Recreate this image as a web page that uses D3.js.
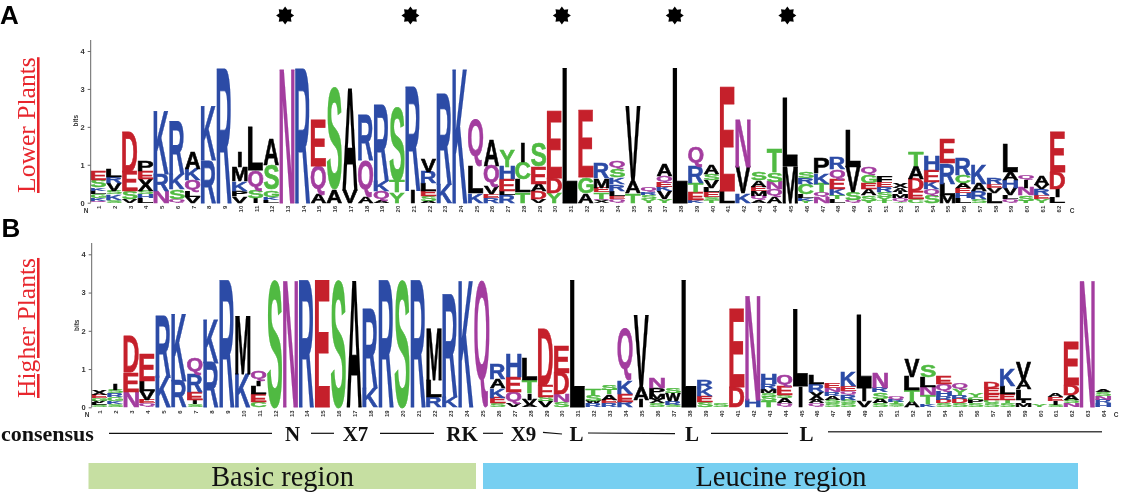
<!DOCTYPE html>
<html><head><meta charset="utf-8">
<script src="https://cdnjs.cloudflare.com/ajax/libs/d3/7.8.5/d3.min.js"></script>
<style>html,body{margin:0;padding:0;background:#fff}svg{display:block;filter:blur(.4px)}</style>
</head><body><svg id="c" width="1121" height="496"></svg>
<script>
// Panel A – letters bottom→top for each position, and their heights in bits
const lowerLetters = ["QKGLKSE","SKSVRL","VSED","LHSXEP","NRK","QSKR","VLQKA","RK","R","VPKMI","ISQL","LKGSA","N","R","AQE","AS","VA","AQR","AQKR","YTS","IR","ASELRV","KR","K","KLQ","REVQA","RLEHY","TLCI","VDAES","YDE","L","AGE","XQTEMR","QELRKSQ","TAV","YSRQ","YVKEQA","L","KETRQ","TSELVSA","LE","KVN","AQMEAS","AQNST","ML","YKLCRS","NQTKP","LTKEQR","QSVL","YSAEGQ","TYSREF","YQMIAX","CEDAT","SQKEH","MLRE","LHEACR","SRAK","LVER","QLVHAL","TSNIQ","YERVA","LIDE"];
const lowerHeights = [[.05,.07,.1,.1,.08,.2,.22],[.08,.14,.1,.2,.15,.2],[.1,.2,.52,1.05],[.12,.1,.1,.3,.2,.26],[.3,.45,1.67],[.1,.25,.4,1.39],[.15,.15,.3,.3,.45],[1.12,1.43],[3.55],[.17,.15,.25,.38,.42],[.12,.2,.53,1.13],[.08,.08,.18,.65,.68],[3.55],[3.55],[.22,.76,1.22],[.35,2.68],[.33,2.7],[.15,.97,1.18],[.05,.25,.27,1.98],[.28,.3,1.95],[.33,2.72],[.05,.12,.15,.2,.3,.35],[.5,2.38],[3.55],[.25,.7,1.25],[.13,.1,.2,.55,.69],[.2,.12,.3,.33,.45],[.27,.35,.45,.51],[.1,.2,.2,.45,.61],[.25,.4,1.77],[3.55],[.25,.42,1.75],[.05,.05,.17,.13,.25,.39],[.1,.08,.14,.18,.18,.2,.22],[.25,.3,2],[.1,.1,.08,.12],[.1,.2,.12,.12,.17,.29],[3.55],[.07,.2,.25,.42,.54],[.08,.08,.12,.12,.2,.16,.23],[.32,2.73],[.25,.7,1.25],[.06,.12,.12,.12,.17,.21],[.15,.2,.2,.25,.63],[.97,1.8],[.05,.08,.1,.27,.15,.17],[.15,.13,.22,.27,.4],[.1,.1,.15,.25,.28,.29],[.07,.22,.66,.97],[.05,.15,.15,.17,.2,.23],[.05,.1,.12,.14,.13,.15],[.03,.1,.1,.05,.1,.12],[.1,.2,.33,.33,.39],[.2,.15,.2,.3,.38],[.2,.3,.55,.65],[.12,.13,.13,.13,.22,.44],[.1,.2,.2,.5,.78],[.25,.13,.1,.17],[.1,.1,.2,.2,.2,.75],[.05,.15,.2,.2,.13,.4],[.1,.1,.15,.12,.25,.4],[.15,.22,.45,1.05]];

// Panel B
const higherLetters = ["SLVGEX","SKGRSI","NED","QEVLE","KR","RK","SIERQ","RK","R","KM","CELIQ","S","N","R","E","S","A","KR","R","S","R","RLM","KR","K","Q","SEKAR","VQEH","AVITL","VSED","SNDE","L","RWST","REATS","REKQ","IAV","SXMPN","SRWS","L","SEKR","S","DE","HN","TSSMRH","QASEQ","IL","QAXRL","SSARNE","SSRQEK","VIL","SASRN","YSTRQ","ATLV","KTNLS","SDRHQE","SDRYQ","SPCY","SCEED","STELK","MILAV","Y","SIEA","NSADE","N","HRNSA"];
const higherHeights = [[.05,.06,.06,.08,.08,.12],[.08,.08,.1,.1,.1,.17],[.41,.51,.93],[.1,.1,.22,.28,.71],[.8,1.6],[.7,1.76],[.08,.12,.2,.45,.45],[1.17,1.16],[3.33],[.87,1.53],[.15,.2,.2,.13,.25],[3.33],[3.33],[3.33],[3.33],[3.33],[3.33],[.5,2.09],[3.33],[3.33],[3.33],[.28,.43,1.34],[.28,2.67],[3.33],[3.33],[.1,.15,.25,.25,.4],[.1,.3,.4,.61],[.05,.15,.17,.34,.55],[.15,.12,.3,1.47],[.15,.2,.55,.71],[3.33],[.1,.05,.17,.18],[.1,.1,.14,.12,.12],[.15,.2,.35,1.34],[.2,.32,1.87],[.1,.12,.12,.17,.28],[.06,.1,.2,.14],[3.33],[.15,.15,.2,.2],[.09],[.52,2.05],[.19,2.76],[.15,.12,.1,.1,.14,.26],[.1,.13,.1,.22,.3],[.55,2.02],[.1,.1,.2,.2,.23],[.1,.1,.1,.1,.11,.12],[.1,.1,.13,.1,.13,.37],[.17,.33,1.89],[.1,.12,.17,.12,.42],[.04,.05,.05,.06,.1],[.15,.3,.35,.45],[.08,.24,.22,.26,.32],[.1,.1,.1,.12,.2,.2],[.1,.13,.1,.15,.15],[.1,.1,.08,.1],[.1,.1,.15,.15,.15],[.1,.1,.15,.2,.43],[.1,.1,.27,.25,.47],[.06],[.06,.1,.1,.11],[.1,.1,.13,.25,1.12],[3.33],[.1,.1,.1,.1,.08]];

const tickBits = [0,1,2,3,4];
const starPositions = [12.88,20.85,30.48,37.66,44.82];
const panelLetters = ["A","B"];
const plantLabels = ["Lower Plants","Higher Plants"];
const consensusLabels = ["N","X7","RK","X9","L","L","L"];
const regionNames = ["Basic region","Leucine region"];

const colorOf = c => "KRH".includes(c) ? "#2c4ba6" : "DE".includes(c) ? "#c5202b" : "NQ".includes(c) ? "#a33d9f"
  : "GSTYC".includes(c) ? "#50ba42" : "#000";

const svg = d3.select("#c");
const ctx = document.createElement("canvas").getContext("2d");
ctx.font = "bold 100px 'Liberation Sans'";
const metric = {};
function ink(c){
  if(!metric[c]){const m=ctx.measureText(c);metric[c]={l:m.actualBoundingBoxLeft,r:m.actualBoundingBoxRight,a:m.actualBoundingBoxAscent,d:m.actualBoundingBoxDescent};}
  return metric[c];
}

function panel(cfg){
  const g = svg.append("g");
  const x = d3.scaleLinear().domain([1,cfg.letters.length]).range(cfg.xr);
  const y = d3.scaleLinear().domain([0,4]).range([cfg.y0,cfg.y4]);
  const stacks = cfg.letters.map((s,i)=>{let acc=0;return s.split("").map((c,j)=>{const h=cfg.heights[i][j];const o={c,pos:i+1,b:acc,t:acc+h};acc+=h;return o;});});
  const flat = stacks.flat();
  g.selectAll("text.l").data(flat).join("text").attr("class","l")
    .attr("font-family","'Liberation Sans'").attr("font-weight","bold").attr("font-size",100)
    .attr("fill",d=>colorOf(d.c)).attr("stroke",d=>colorOf(d.c)).attr("stroke-width",.6).style("vector-effect","non-scaling-stroke").text(d=>d.c)
    .attr("transform",d=>{
      const m=ink(d.c),w=m.l+m.r,h=m.a+m.d;
      const sy=(y(d.b)-y(d.t))/h;
      const sx=d.c==="I"?cfg.w/68:cfg.w/w;
      const cx=x(d.pos);
      return `translate(${cx-(w/2-m.l)*sx},${y(d.b)-m.d*sy}) scale(${sx},${sy})`;
    });
  const ay=g.append("g").attr("transform",`translate(${cfg.ax},0)`).call(d3.axisLeft(y).tickValues(tickBits).tickSize(3).tickPadding(3).tickFormat(d3.format("d")));
  ay.select(".domain").attr("d",`M0,${cfg.y0}V${cfg.atop}`).attr("stroke","#666").attr("stroke-width",1);
  ay.selectAll("line").attr("stroke","#666");
  ay.selectAll("text").attr("font-family","'Liberation Sans'").attr("font-weight","bold").attr("font-size",7.5).attr("fill","#333");
  g.append("text").attr("transform",`translate(${cfg.ax-13},${cfg.y0-82}) rotate(-90)`).attr("text-anchor","middle")
    .attr("font-family","'Liberation Sans'").attr("font-weight","bold").attr("font-size",6.5).attr("fill","#333").text("bits");
  const ax=g.append("g").attr("transform",`translate(0,${cfg.y0+1})`).call(d3.axisBottom(x).tickValues(d3.range(1,cfg.letters.length+1)).tickSize(0).tickFormat(d3.format("d")));
  ax.select(".domain").remove();
  ax.selectAll("text").attr("font-family","'Liberation Sans'").attr("font-weight","bold").attr("font-size",6).attr("fill","#333")
    .attr("text-anchor","end").attr("x",-2).attr("y",2.5).attr("dy",0).attr("transform","rotate(-90)");
  const tiny=[["N",cfg.nx],["C",cfg.cx]];
  g.selectAll("text.e").data(tiny).join("text").attr("class","e").attr("x",d=>d[1]).attr("y",cfg.y0+10).attr("text-anchor","middle")
    .attr("font-family","'Liberation Sans'").attr("font-weight","bold").attr("font-size",6.5).attr("fill","#333").text(d=>d[0]);
  return x;
}

const xA = panel({letters:lowerLetters,heights:lowerHeights,xr:[98.3,1057.5],y0:202.7,y4:51,ax:90.7,atop:40,w:15,nx:86,cx:1072});
panel({letters:higherLetters,heights:higherHeights,xr:[99.3,1103.3],y0:407.3,y4:254.3,ax:91.7,atop:243,w:15,nx:87,cx:1116});

// stars
const starLine = d3.lineRadial().curve(d3.curveLinearClosed);
const starPts = d3.range(16).map(i=>[i*Math.PI/8,i%2?6.2:9]);
svg.selectAll("path.star").data(starPositions).join("path").attr("class","star")
  .attr("d",starLine(starPts)).attr("transform",d=>`translate(${xA(d)},15.5)`).attr("fill","#000");

// panel letters
svg.selectAll("text.p").data(panelLetters).join("text").attr("class","p")
  .attr("x",(d,i)=>i?1.5:0).attr("y",(d,i)=>i?237:24).attr("font-family","'Liberation Sans'").attr("font-weight","bold").attr("font-size",26).attr("fill","#000").text(d=>d);

// plant labels
svg.selectAll("text.pl").data(plantLabels).join("text").attr("class","pl")
  .attr("transform",(d,i)=>`translate(35,${i?398:193}) rotate(-90)`)
  .attr("font-family","'Liberation Serif'").attr("font-size",25.6).attr("fill","#e8262d").attr("text-decoration","underline").text(d=>d);

// consensus
const serif="'Liberation Serif'";
svg.append("text").attr("x",1).attr("y",441).attr("font-family",serif).attr("font-weight","bold").attr("font-size",22).attr("fill","#111").text("consensus");
const labelX=[292.5,355.5,462,523.5,576.5,692,806.5];
svg.selectAll("text.cs").data(consensusLabels).join("text").attr("class","cs").attr("x",(d,i)=>labelX[i]).attr("y",441)
  .attr("text-anchor","middle").attr("font-family",serif).attr("font-weight","bold").attr("font-size",21).attr("fill","#111").text(d=>d);
const dashes=[[109,272,433.3,433.3,1.2,"#111"],[311,334,433.3,433.3,1.2,"#111"],[380,434,433.3,433.3,1.2,"#111"],[483,503,433.3,433.3,1.2,"#111"],[543,562,432.3,434,1.2,"#111"],[588,675,433,433.6,1.2,"#111"],[711,788,433.3,433.3,1.2,"#111"],[828,1102,431.8,431.8,1.6,"#444"]];
svg.selectAll("line.d").data(dashes).join("line").attr("class","d").attr("x1",d=>d[0]).attr("x2",d=>d[1]).attr("y1",d=>d[2]).attr("y2",d=>d[3]).attr("stroke-width",d=>d[4]).attr("stroke",d=>d[5]);

// region bars
const regionSpans=[[88.5,476],[483,1078]], regionColors=["#c6dfa2","#77cff1"], regionTextX=[282.5,781];
svg.selectAll("rect.r").data(regionSpans).join("rect").attr("class","r").attr("x",d=>d[0]).attr("width",d=>d[1]-d[0]).attr("y",463).attr("height",26).attr("fill",(d,i)=>regionColors[i]);
svg.selectAll("text.r").data(regionNames).join("text").attr("class","r").attr("x",(d,i)=>regionTextX[i]).attr("y",485.5)
  .attr("text-anchor","middle").attr("font-family",serif).attr("font-size",28.4).attr("fill","#111").text(d=>d);
</script></body></html>
